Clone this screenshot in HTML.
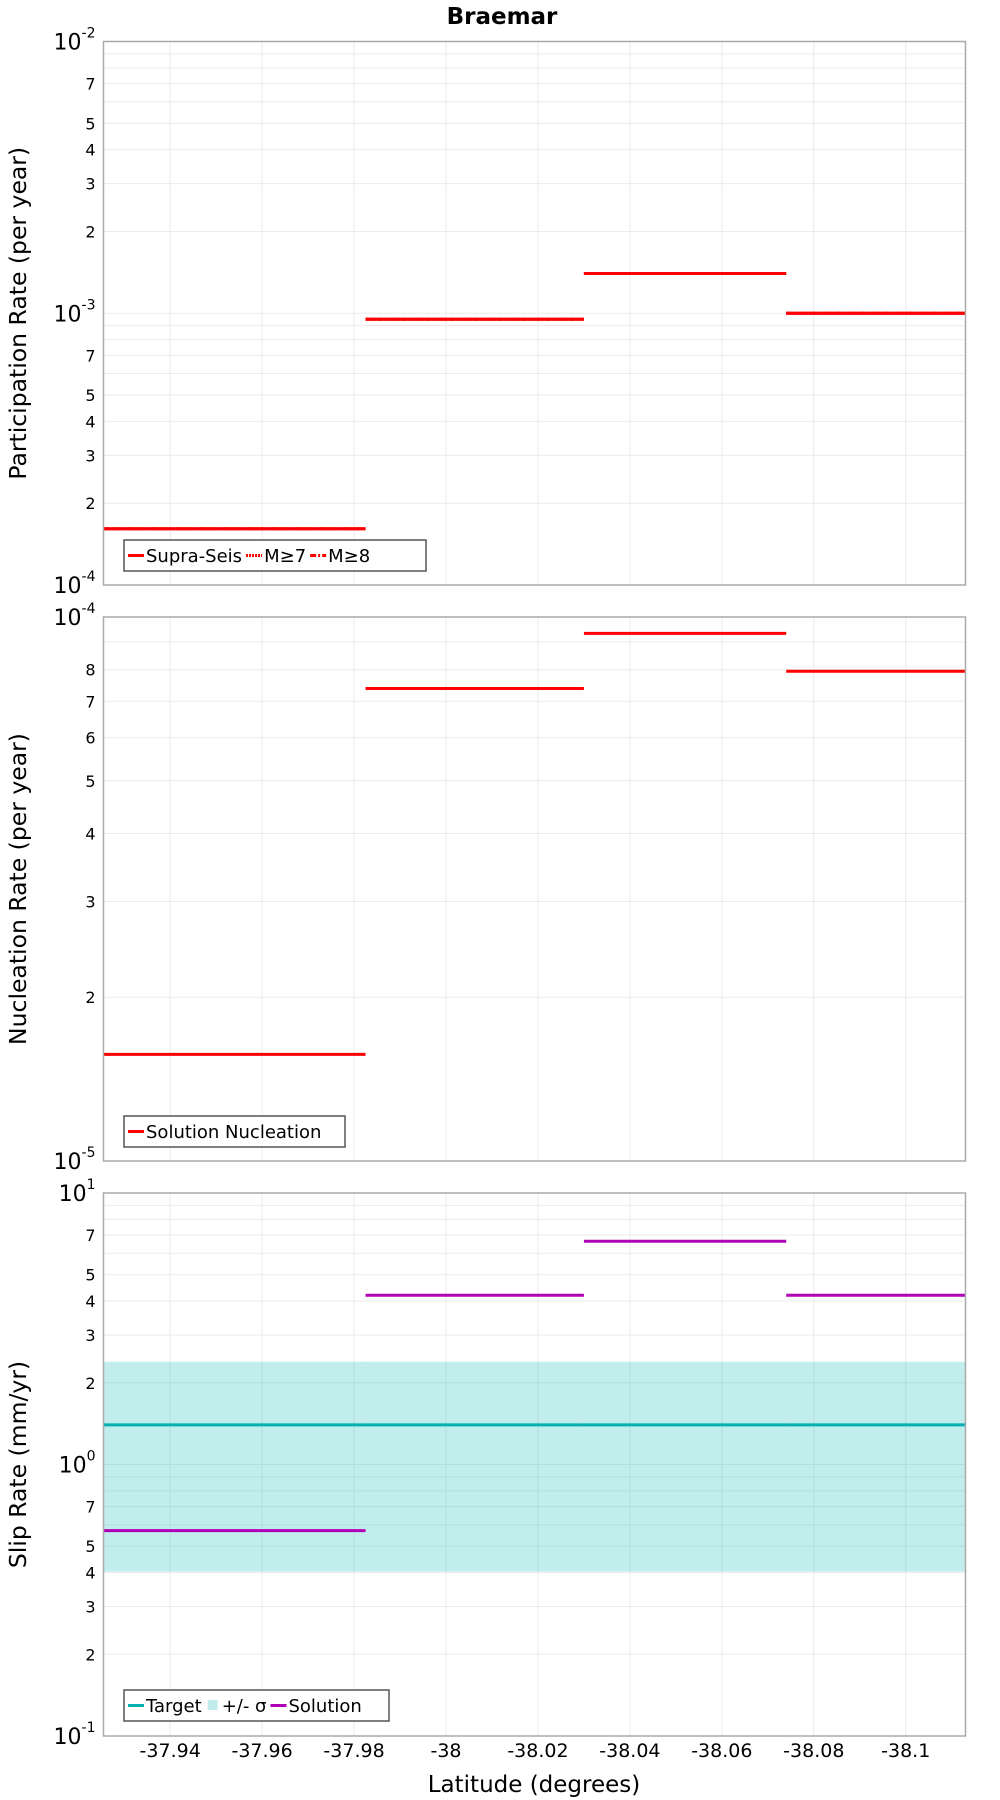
<!DOCTYPE html>
<html><head><meta charset="utf-8"><style>
html,body{margin:0;padding:0;background:#fff}
svg{display:block;font-family:"DejaVu Sans","Liberation Sans",sans-serif}
</style></head><body>
<svg id="chart" width="1000" height="1800" viewBox="0 0 1000 1800" xmlns="http://www.w3.org/2000/svg">
<text x="502" y="24" text-anchor="middle" font-weight="bold" font-size="23">Braemar</text>
<text x="534" y="1792" text-anchor="middle" font-size="23">Latitude (degrees)</text>
</svg>
<script>
const xTicks = [-37.94, -37.96, -37.98, -38, -38.02, -38.04, -38.06, -38.08, -38.1];
const xTickLabels = ["-37.94","-37.96","-37.98","-38","-38.02","-38.04","-38.06","-38.08","-38.1"];
const segStarts = [-37.9255, -37.9825, -38.03, -38.074];
const segEnds = [-37.9825, -38.03, -38.074, -38.113];
const supraSeis = [1.61e-4, 9.5e-4, 1.40e-3, 1.0e-3];
const m7 = [1.61e-4, 9.5e-4, 1.40e-3, 1.0e-3];
const m8 = [1.61e-4, 9.5e-4, 1.40e-3, 1.0e-3];
const nucleation = [1.57e-5, 7.39e-5, 9.33e-5, 7.95e-5];
const slipSolution = [0.571, 4.2, 6.64, 4.2];
const slipTarget = [1.40, 1.40, 1.40, 1.40];
const slipUpper = [2.39, 2.39, 2.39, 2.39];
const slipLower = [0.403, 0.403, 0.403, 0.403];
const p1Minor = [2,3,4,5,7];
const p2Minor = [2,3,4,5,6,7,8];
const p3Minor = [2,3,4,5,7];

const NS="http://www.w3.org/2000/svg";
const svg=document.getElementById('chart');
const L=103.5,R=965.5,XD0=-37.9255,XD1=-38.113;
function xs(v){return L+(v-XD0)/(XD1-XD0)*(R-L);}
function mk(tag,attrs,parent){const e=document.createElementNS(NS,tag);for(const k in attrs)e.setAttribute(k,attrs[k]);(parent||svg).appendChild(e);return e;}

function panel(top,bot,e0,e1,minor,title,name){
  const g=mk('g',{});
  
  
  const ys=v=>bot-(Math.log10(v)-e0)/(e1-e0)*(bot-top);
  for(let e=e0;e<e1;e++){for(let m=2;m<=9;m++){const y=ys(m*Math.pow(10,e));
    const gl=mk('line',{x1:L,x2:R,y1:y,y2:y,stroke:'#ebebeb','stroke-width':1},g);
    
    if(minor.includes(m)){const t=mk('text',{x:L-8,y:y+6,'text-anchor':'end','font-size':16},g);t.textContent=m;
      }}}
  for(let e=e0;e<=e1;e++){const y=ys(Math.pow(10,e));
    mk('line',{x1:L,x2:R,y1:y,y2:y,stroke:'#ebebeb'},g);
    const t=mk('text',{x:L-8,y:y+8,'text-anchor':'end','font-size':22},g);
    t.innerHTML='10<tspan dy="-12" font-size="14">'+e+'</tspan>';
    }
  xTicks.forEach(v=>{const x=xs(v);const gl=mk('line',{x1:x,x2:x,y1:top,y2:bot,stroke:'#ebebeb'},g);
    });
  const tt=mk('text',{x:0,y:0,'text-anchor':'middle','font-size':23.5,transform:`translate(26,${(top+bot)/2}) rotate(-90)`},g);
  tt.textContent=title;
  return {g,ys,top,bot};
}
function frame(p){const r=mk('rect',{x:L,y:p.top,width:R-L,height:p.bot-p.top,fill:'none',stroke:'#aaaaaa','stroke-width':1.5},p.g);
  }
function steps(p,vals,color,dash,name){vals.forEach((v,i)=>{const y=p.ys(v);
  const l=mk('line',{x1:xs(segStarts[i]),x2:xs(segEnds[i]),y1:y,y2:y,stroke:color,'stroke-width':3},p.g);
  if(dash)l.setAttribute('stroke-dasharray',dash);
  });}
function legend(p,x,y,w,items){const g=mk('g',{},p.g);
  
  mk('rect',{x:x,y:y,width:w,height:31,fill:'#fff',stroke:'#555','stroke-width':1.5},g);
  let cx=x+4;items.forEach(it=>{
    if(it.box){mk('rect',{x:cx+2,y:y+10,width:10,height:10,fill:it.color},g);cx+=16;}
    else{const l=mk('line',{x1:cx,x2:cx+16,y1:y+15.5,y2:y+15.5,stroke:it.color,'stroke-width':3},g);if(it.dash)l.setAttribute('stroke-dasharray',it.dash);cx+=18;}
    const t=mk('text',{x:cx,y:y+22,'font-size':18},g);t.textContent=it.label;
    
    cx+=t.getComputedTextLength()+4;});}

const p1=panel(41.5,585,-4,-2,p1Minor,'Participation Rate (per year)','participation-panel');
steps(p1,supraSeis,'#ff0000',null,'supra-seis-line');
steps(p1,m7,'#ff0000','2,1','m7-line');
steps(p1,m8,'#ff0000','6,2,2,2','m8-line');
frame(p1);
legend(p1,124,540,302,[{label:'Supra-Seis',color:'#ff0000'},{label:'M≥7',color:'#ff0000',dash:'2,1'},{label:'M≥8',color:'#ff0000',dash:'6,2,2,2'}]);

const p2=panel(617,1161,-5,-4,p2Minor,'Nucleation Rate (per year)','nucleation-panel');
steps(p2,nucleation,'#ff0000',null,'nucleation-line');
frame(p2);
legend(p2,124,1116,221,[{label:'Solution Nucleation',color:'#ff0000'}]);

const p3=panel(1193,1736,-1,1,p3Minor,'Slip Rate (mm/yr)','slip-panel');
slipUpper.forEach((u,i)=>{const y1=p3.ys(u),y2=p3.ys(slipLower[i]);
  const r=mk('rect',{x:xs(segStarts[i]),y:y1,width:xs(segEnds[i])-xs(segStarts[i]),height:y2-y1,fill:'rgba(0,180,180,0.24)'},p3.g);
  });
steps(p3,slipTarget,'#00b0b0',null,'target-line');
steps(p3,slipSolution,'#b000b8',null,'solution-line');
frame(p3);
legend(p3,124,1690,265,[{label:'Target',color:'#00b0b0'},{label:'+/- σ',color:'#c0ecec',box:true},{label:'Solution',color:'#b000b8'}]);

xTicks.forEach((v,i)=>{const t=mk('text',{x:xs(v),y:1757,'text-anchor':'middle','font-size':19});
  t.textContent=xTickLabels[i];});
</script>
</body></html>
